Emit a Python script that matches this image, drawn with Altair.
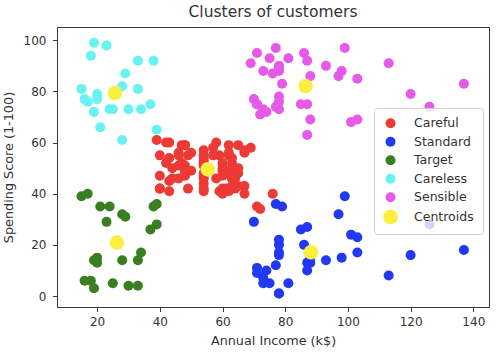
import altair as alt
import pandas as pd

FONT = "DejaVu Sans"

careful_income = [39, 40, 40, 40, 40, 42, 42, 43, 43, 43, 43, 44, 44, 46, 46, 46, 46, 47, 47,
                  48, 48, 48, 48, 48, 48, 49, 49, 50, 50, 54, 54, 54, 54, 54, 54, 54, 54, 54,
                  54, 54, 54, 57, 57, 58, 58, 59, 59, 60, 60, 60, 60, 60, 60, 61, 61, 62, 62,
                  62, 62, 62, 62, 63, 63, 63, 63, 63, 63, 64, 64, 65, 65, 65, 65, 67, 67, 67,
                  67, 69, 71, 72, 76]
careful_score = [61, 55, 47, 42, 42, 52, 60, 54, 60, 45, 41, 50, 46, 51, 46, 56, 55, 52, 59,
                 51, 59, 50, 48, 59, 47, 55, 42, 49, 56, 47, 54, 53, 48, 52, 42, 51, 55, 41,
                 44, 57, 46, 58, 55, 60, 46, 55, 41, 49, 40, 42, 52, 47, 50, 42, 49, 41, 48,
                 59, 55, 56, 42, 50, 46, 43, 48, 52, 54, 42, 46, 48, 50, 43, 59, 43, 57, 56,
                 40, 58, 35, 34, 40]

standard_income = [70, 71, 71, 73, 73, 74, 75, 77, 77, 78, 78, 78, 78, 78, 78, 79, 81, 85,
                   86, 87, 87, 87, 88, 88, 93, 97, 98, 99, 101, 103, 103, 113, 120, 126, 137]
standard_score = [29, 11, 9, 5, 7, 10, 5, 12, 36, 22, 17, 20, 16, 1, 1, 35, 5, 26,
                  20, 27, 13, 10, 13, 15, 14, 32, 15, 39, 24, 17, 23, 8, 16, 28, 18]

target_income = [15, 16, 17, 18, 19, 19, 20, 20, 21, 23, 24, 25, 28, 28, 29, 30, 33, 33,
                 34, 37, 38, 39, 39]
target_score = [39, 6, 40, 6, 3, 14, 15, 13, 35, 29, 35, 5, 14, 32, 31, 4, 4, 14,
                17, 26, 35, 36, 28]

careless_income = [15, 16, 17, 18, 19, 19, 20, 20, 21, 23, 24, 25, 28, 28, 29, 30, 33, 33,
                   34, 37, 38, 39]
careless_score = [81, 77, 76, 94, 72, 99, 77, 79, 66, 98, 73, 73, 82, 61, 87, 73, 92, 81,
                  73, 75, 92, 65]

sensible_income = [69, 70, 71, 71, 71, 72, 73, 73, 74, 75, 76, 77, 77, 78, 78, 78, 78, 78,
                   78, 79, 81, 85, 86, 87, 87, 87, 88, 88, 93, 97, 98, 99, 101, 103, 103,
                   113, 120, 126, 137]
sensible_score = [91, 77, 95, 75, 75, 71, 88, 73, 72, 93, 87, 97, 74, 90, 88, 76, 89, 78,
                  73, 83, 93, 75, 95, 63, 75, 92, 86, 69, 90, 86, 88, 97, 68, 85, 69,
                  91, 79, 74, 83]

centroid_income = [55.3, 88.2, 26.3, 25.7, 86.5]
centroid_score = [49.5, 17.1, 20.9, 79.4, 82.1]

labels = ["Careful", "Standard", "Target", "Careless", "Sensible", "Centroids"]
colors = ["#ec3a35", "#2238f2", "#3a7e22", "#68f3f3", "#e65ae9", "#fbf042"]
sizes = [100, 100, 100, 100, 100, 215]

groups = [
    ("Careful", careful_income, careful_score),
    ("Standard", standard_income, standard_score),
    ("Target", target_income, target_score),
    ("Careless", careless_income, careless_score),
    ("Sensible", sensible_income, sensible_score),
]
rows = []
for name, xs, ys in groups:
    for xv, yv in zip(xs, ys):
        rows.append({"income": xv, "score": yv, "cluster": name})
pts = pd.DataFrame(rows)
cen = pd.DataFrame({"income": centroid_income, "score": centroid_score,
                    "cluster": ["Centroids"] * len(centroid_income)})

xscale = alt.Scale(domain=[7.2, 145], nice=False, zero=False)
yscale = alt.Scale(domain=[-4.3, 105.2], nice=False, zero=False)
cscale = alt.Scale(domain=labels, range=colors)
sscale = alt.Scale(type="ordinal", domain=labels, range=sizes)

legend = alt.Legend(
    title=None, orient="none", legendX=317, legendY=81,
    symbolType="circle", symbolOpacity=1, symbolStrokeWidth=0,
    labelFont=FONT, labelFontSize=12.5, labelColor="#333333",
    padding=9, rowPadding=5.5, labelOffset=16,
    strokeColor="#d0d0d0", fillColor="rgba(255,255,255,0.8)", cornerRadius=3,
)

xaxis = alt.Axis(values=[20, 40, 60, 80, 100, 120, 140], title="Annual Income (k$)",
                 titlePadding=7.5, labelPadding=4.5, grid=False, titleFontWeight="normal")
yaxis = alt.Axis(values=[0, 20, 40, 60, 80, 100], title="Spending Score (1-100)",
                 titlePadding=7.5, labelPadding=6.5, grid=False, titleFontWeight="normal")

base_enc = dict(
    x=alt.X("income:Q", scale=xscale, axis=xaxis),
    y=alt.Y("score:Q", scale=yscale, axis=yaxis),
    color=alt.Color("cluster:N", scale=cscale, legend=legend),
    size=alt.Size("cluster:N", scale=sscale, legend=legend),
)

points = alt.Chart(pts).mark_circle(opacity=1).encode(**base_enc)
cents = alt.Chart(cen).mark_circle(opacity=1).encode(**base_enc)

chart = (
    alt.layer(points, cents)
    .properties(
        width=432, height=280,
        background="white",
        autosize=alt.AutoSizeParams(type="none"),
        padding={"left": 57, "top": 27, "right": 10, "bottom": 46},
        title=alt.Title("Clusters of customers", font=FONT, fontSize=15.5,
                        fontWeight="normal", color="#333333", offset=7),
    )
    .configure_view(stroke="#3a3a3a", strokeWidth=1)
    .configure_axis(
        grid=False, domainColor="#3a3a3a", tickColor="#3a3a3a", tickSize=4.5,
        labelFont=FONT, labelFontSize=12, labelColor="#333333",
        titleFont=FONT, titleFontSize=12.8, titleFontWeight="normal", titleColor="#333333",
    )
)

chart.save("out.html", embed_options={"renderer": "svg", "actions": False})
